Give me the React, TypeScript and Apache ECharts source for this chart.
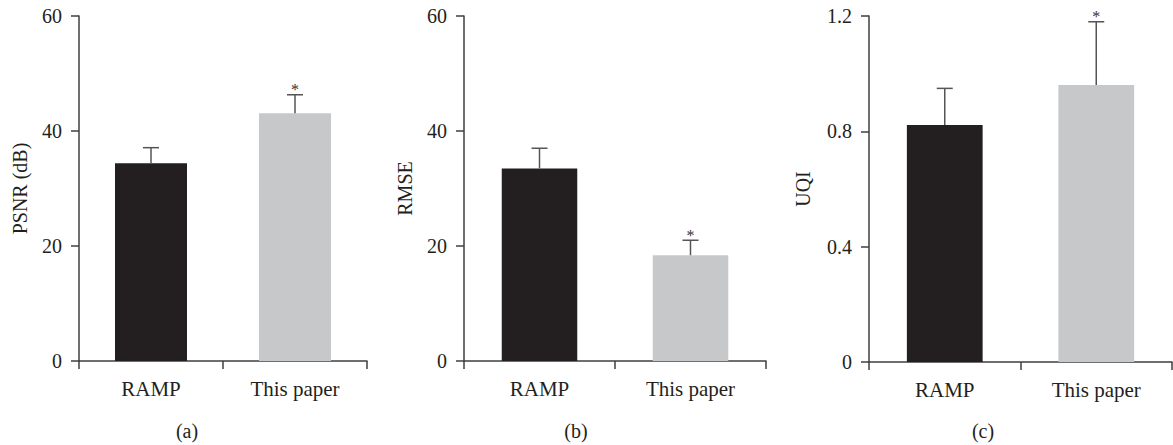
import React, { useEffect, useRef } from "react";
import * as echarts from "echarts";

const categories = ["RAMP", "This paper"];
const panelLetters = ["(a)", "(b)", "(c)"];
const yNames = ["PSNR (dB)", "RMSE", "UQI"];

const psnrValues = [34.4, 43.1];
const psnrErrors = [2.7, 3.2];
const rmseValues = [33.5, 18.4];
const rmseErrors = [3.5, 2.6];
const uqiValues = [0.822, 0.961];
const uqiErrors = [0.127, 0.219];
const significant = [false, true];

const yMax = [60, 60, 1.2];
const yInterval = [20, 20, 0.4];

const barColors = ["#231f20", "#c7c8ca"];
const FONT = "Liberation Serif";
const TEXT = "#231f20";
const AXIS = "#3f3f3f";

export default function App() {
  const ref = useRef<HTMLDivElement>(null);
  useEffect(() => {
    if (!ref.current) return;
    const chart = echarts.init(ref.current, undefined, { renderer: "svg" });
    const values = [psnrValues, rmseValues, uqiValues];
    const errors = [psnrErrors, rmseErrors, uqiErrors];
    const grids = [
      { left: 79, top: 16, width: 288, height: 345 },
      { left: 464, top: 16, width: 302, height: 345 },
      { left: 869, top: 16, width: 303, height: 346 },
    ];
    const nameGaps = [49, 49, 56];
    const letterX = [187, 576, 983];

    const xAxis = grids.map((_, i) => ({
      type: "category",
      gridIndex: i,
      data: categories,
      axisLine: { lineStyle: { color: AXIS, width: 1.5 } },
      axisTick: { show: true, length: 8, lineStyle: { color: AXIS, width: 1.5 } },
      axisLabel: { color: TEXT, fontFamily: FONT, fontSize: 21, margin: 17 },
    }));
    const yAxis = grids.map((_, i) => ({
      type: "value",
      gridIndex: i,
      min: 0,
      max: yMax[i],
      interval: yInterval[i],
      name: yNames[i],
      nameLocation: "middle",
      nameGap: nameGaps[i],
      nameTextStyle: { color: TEXT, fontFamily: FONT, fontSize: 20 },
      splitLine: { show: false },
      axisLine: { show: true, lineStyle: { color: AXIS, width: 1.5 } },
      axisTick: { show: true, length: 8, lineStyle: { color: AXIS, width: 1.5 } },
      axisLabel: { color: TEXT, fontFamily: FONT, fontSize: 20, margin: 17 },
    }));

    const series: any[] = [];
    values.forEach((vals, i) => {
      series.push({
        type: "bar",
        xAxisIndex: i,
        yAxisIndex: i,
        barWidth: "50%",
        data: vals.map((v, j) => ({ value: v, itemStyle: { color: barColors[j] } })),
      });
      series.push({
        type: "custom",
        xAxisIndex: i,
        yAxisIndex: i,
        z: 5,
        encode: { x: 0, y: 1 },
        data: vals.map((v, j) => [j, v, errors[i][j], significant[j] ? 1 : 0]),
        renderItem: (params: any, api: any) => {
          const x = api.value(0);
          const v = api.value(1);
          const e = api.value(2);
          const s = api.value(3);
          const base = api.coord([x, v]);
          const top = api.coord([x, v + e]);
          const style = { stroke: "#555555", lineWidth: 1.5 };
          const children: any[] = [
            { type: "line", shape: { x1: base[0], y1: base[1], x2: top[0], y2: top[1] }, style },
            { type: "line", shape: { x1: top[0] - 8, y1: top[1], x2: top[0] + 8, y2: top[1] }, style },
          ];
          if (s) {
            children.push({
              type: "text",
              style: {
                text: "*",
                x: top[0],
                y: top[1] - 5,
                align: "center",
                verticalAlign: "middle",
                font: `16px '${FONT}'`,
                fill: "#333333",
              },
            });
          }
          return { type: "group", children };
        },
      });
    });

    chart.setOption({
      animation: false,
      grid: grids.map((g) => ({ ...g, containLabel: false })),
      xAxis,
      yAxis,
      series,
      graphic: panelLetters.map((t, i) => ({
        type: "text",
        x: letterX[i],
        y: 431,
        style: {
          text: t,
          align: "center",
          verticalAlign: "middle",
          font: `20px '${FONT}'`,
          fill: TEXT,
        },
      })),
    });
    return () => chart.dispose();
  }, []);
  return (
    <div
      ref={ref}
      style={{ position: "absolute", left: 0, top: 0, width: 1173, height: 445, background: "#fff" }}
    />
  );
}
